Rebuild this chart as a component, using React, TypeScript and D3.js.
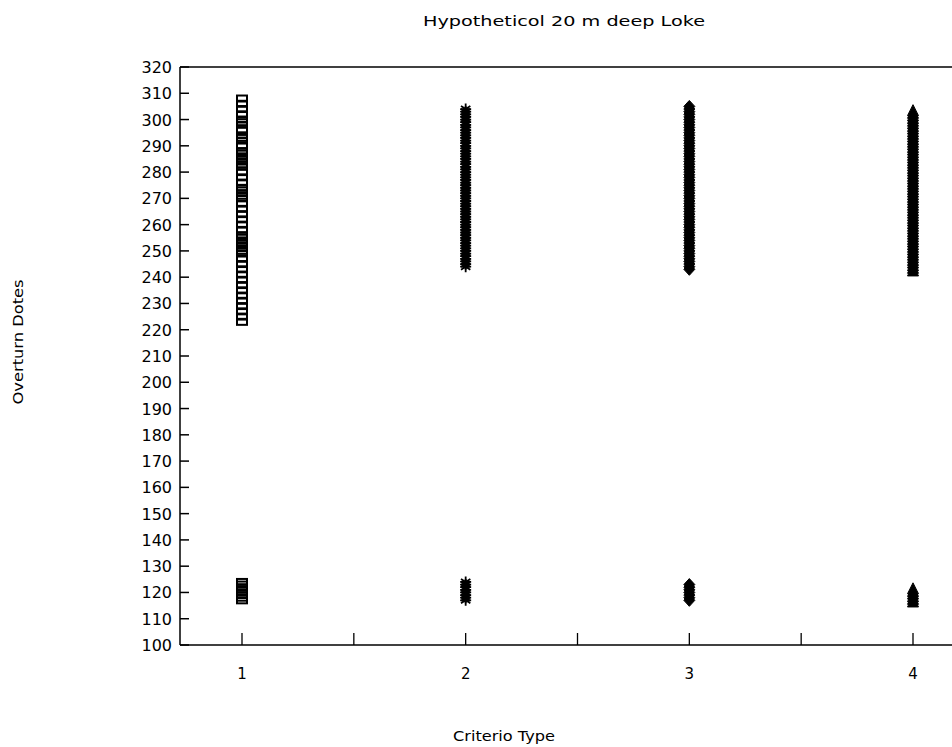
import React from "react";
import * as d3 from "d3";

const title = "Hypotheticol 20 m deep Loke";
const yLabel = "Overturn Dotes";
const xLabel = "Criterio Type";

const criteria = [1, 2, 3, 4];
const yTicks = [100, 110, 120, 130, 140, 150, 160, 170, 180, 190, 200, 210, 220, 230, 240, 250, 260, 270, 280, 290, 300, 310, 320];
const xTicks = [1, 1.5, 2, 2.5, 3, 3.5, 4];
const xTickLabels = ["1", "", "2", "", "3", "", "4"];

// Overturn dates per criteria type (spring overturn and fall overturn)
const crit1Dates = [
  117, 118, 119, 120, 121, 122, 123, 124,
  223, 225, 227, 229, 231, 233, 235, 237, 239, 241, 243, 245, 247, 249, 250, 251, 252, 253, 254, 255,
  256, 258, 260, 262, 264, 266, 268, 270, 271, 272, 273, 274, 276, 278, 280, 282, 283, 284, 285,
  286, 287, 288, 290, 292, 293, 294, 296, 298, 299, 300, 302, 304, 306, 308,
];
const crit2Dates = [
  117, 118, 119, 120, 121, 122, 123, 124,
  244, 245, 246, 247, 248, 249, 250, 251, 252, 253, 254, 255, 256, 257, 258, 259, 260, 261, 262, 263,
  264, 265, 266, 267, 268, 269, 270, 271, 272, 273, 274, 275, 276, 277, 278, 279, 280, 281, 282, 283,
  284, 285, 286, 287, 288, 289, 290, 291, 292, 293, 294, 295, 296, 297, 298, 299, 300, 301, 302, 303, 304,
];
const crit3Dates = [
  117, 118, 119, 120, 121, 122, 123,
  243, 244, 245, 246, 247, 248, 249, 250, 251, 252, 253, 254, 255, 256, 257, 258, 259, 260, 261, 262,
  263, 264, 265, 266, 267, 268, 269, 270, 271, 272, 273, 274, 275, 276, 277, 278, 279, 280, 281, 282,
  283, 284, 285, 286, 287, 288, 289, 290, 291, 292, 293, 294, 295, 296, 297, 298, 299, 300, 301, 302,
  303, 304, 305,
];
const crit4Dates = [
  116, 117, 118, 119, 120, 121,
  242, 243, 244, 245, 246, 247, 248, 249, 250, 251, 252, 253, 254, 255, 256, 257, 258, 259, 260, 261,
  262, 263, 264, 265, 266, 267, 268, 269, 270, 271, 272, 273, 274, 275, 276, 277, 278, 279, 280, 281,
  282, 283, 284, 285, 286, 287, 288, 289, 290, 291, 292, 293, 294, 295, 296, 297, 298, 299, 300, 301,
  302, 303,
];
const seriesDates = [crit1Dates, crit2Dates, crit3Dates, crit4Dates];
const markerTypes = ["square", "star", "diamond", "triangle"];

const W = 952;
const H = 747;
const left = 180;
const top = 67;
const bottom = 645;

export default function App() {
  const x = d3.scaleLinear().domain([1, 4]).range([242, 913]);
  const y = d3.scaleLinear().domain([100, 320]).range([bottom, top]);
  const font = "'DejaVu Sans', sans-serif";

  const marker = (type: string, cx: number, cy: number, key: string) => {
    if (type === "square") {
      return <rect key={key} x={cx - 5} y={cy - 3} width={10} height={6} fill="none" stroke="#000" strokeWidth={2} />;
    }
    if (type === "star") {
      const r = 5.5;
      const d = `M${cx - r},${cy}L${cx + r},${cy}M${cx},${cy - r}L${cx},${cy + r}M${cx - r * 0.85},${cy - r * 0.55}L${cx + r * 0.85},${cy + r * 0.55}M${cx - r * 0.85},${cy + r * 0.55}L${cx + r * 0.85},${cy - r * 0.55}`;
      return <path key={key} d={d} stroke="#000" strokeWidth={1.8} fill="none" />;
    }
    if (type === "diamond") {
      const d = `M${cx},${cy - 6}L${cx + 5.5},${cy}L${cx},${cy + 6}L${cx - 5.5},${cy}Z`;
      return <path key={key} d={d} fill="#000" stroke="#000" strokeWidth={1} />;
    }
    const d = `M${cx},${cy - 7}L${cx + 5.5},${cy + 4}L${cx - 5.5},${cy + 4}Z`;
    return <path key={key} d={d} fill="#000" stroke="#000" strokeWidth={1} />;
  };

  return (
    <svg width={W} height={H} style={{ position: "absolute", left: 0, top: 0, background: "#fff" }}>
      <rect width={W} height={H} fill="#fff" />
      <text x={564} y={26} textAnchor="middle" fontFamily={font} fontSize={14} textLength={282} lengthAdjust="spacingAndGlyphs">{title}</text>
      {/* frame */}
      <line x1={left} y1={top} x2={W} y2={top} stroke="#000" strokeWidth={1.5} />
      <line x1={left} y1={top} x2={left} y2={bottom} stroke="#000" strokeWidth={1.5} />
      <line x1={left} y1={bottom} x2={W} y2={bottom} stroke="#000" strokeWidth={1.5} />
      {/* y ticks */}
      {yTicks.map((t) => (
        <g key={"y" + t}>
          <line x1={left} x2={left + 9} y1={y(t)} y2={y(t)} stroke="#000" strokeWidth={1.5} />
          <text x={172} y={y(t) + 6} textAnchor="end" fontFamily={font} fontSize={16}>{t}</text>
        </g>
      ))}
      {/* x ticks */}
      {xTicks.map((t, i) => (
        <g key={"x" + t}>
          <line x1={x(t)} x2={x(t)} y1={bottom} y2={bottom - 12} stroke="#000" strokeWidth={1.3} />
          {xTickLabels[i] && (
            <text x={x(t)} y={679} textAnchor="middle" fontFamily={font} fontSize={15}>{xTickLabels[i]}</text>
          )}
        </g>
      ))}
      {/* markers */}
      {criteria.map((c, i) =>
        seriesDates[i].map((v, j) => marker(markerTypes[i], x(c), y(v), `m${i}-${j}`))
      )}
      <text x={504} y={741} textAnchor="middle" fontFamily={font} fontSize={14} textLength={102} lengthAdjust="spacingAndGlyphs">{xLabel}</text>
      <text transform={`translate(23,342) rotate(-90)`} textAnchor="middle" fontFamily={font} fontSize={14} textLength={125} lengthAdjust="spacingAndGlyphs">{yLabel}</text>
    </svg>
  );
}
